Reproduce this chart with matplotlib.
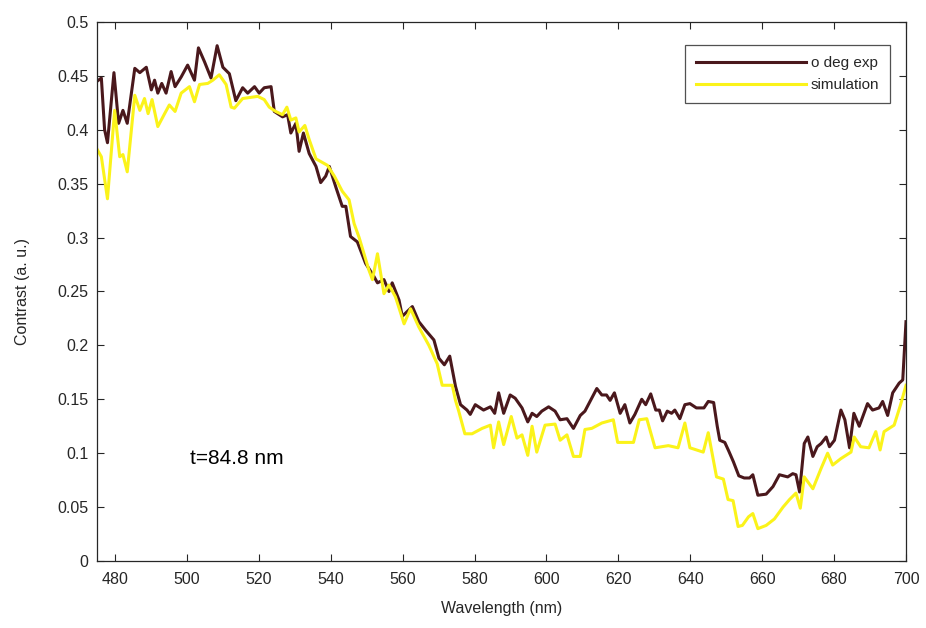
import matplotlib
matplotlib.use("Agg")
import matplotlib.pyplot as plt
from matplotlib.ticker import FixedLocator

plt.rcParams['font.family'] = ['Liberation Sans', 'DejaVu Sans']

exp_wl = [475.0, 476.2, 477.1, 477.9, 479.7, 481.0, 482.2, 483.4, 485.5, 486.9, 488.7, 490.1, 491.0, 491.9,
          493.0, 494.2, 495.6, 496.7, 498.4, 500.2, 502.1, 503.2, 504.9, 506.7, 508.4, 510.0, 511.8, 513.6,
          515.5, 516.9, 518.8, 520.1, 521.5, 523.4, 524.3, 526.6, 528.0, 528.9, 530.3, 531.2, 532.4, 534.0,
          535.9, 537.2, 538.6, 539.6, 541.4, 543.2, 544.2, 545.5, 547.4, 549.7, 552.0, 553.0, 554.8, 556.2,
          557.1, 559.0, 559.9, 562.7, 564.5, 566.4, 568.7, 570.1, 571.6, 573.1, 574.7, 576.1, 577.9, 578.8,
          580.2, 582.5, 584.4, 585.6, 586.7, 588.1, 589.9, 591.3, 593.2, 594.8, 596.0, 597.3, 598.7, 600.6,
          602.4, 603.8, 605.7, 607.5, 609.4, 610.7, 612.1, 614.0, 615.4, 616.7, 617.7, 618.9, 620.5, 621.8,
          623.2, 624.6, 626.5, 627.6, 629.0, 630.4, 631.4, 632.3, 633.6, 634.8, 635.7, 637.1, 638.5, 639.9,
          641.7, 643.8, 645.0, 646.5, 647.5, 648.2, 649.6, 650.7, 652.0, 653.5, 655.0, 656.5, 657.4, 658.8,
          661.1, 663.0, 664.8, 667.1, 668.5, 669.4, 670.4, 671.7, 672.7, 674.1, 675.3, 676.4, 677.8, 678.7,
          680.1, 681.9, 683.0, 684.3, 685.5, 687.0, 689.3, 690.7, 692.5, 693.5, 694.9, 696.3, 698.1, 699.1,
          700.0]
exp_val = [0.445, 0.448, 0.400, 0.388, 0.453, 0.406, 0.418, 0.406, 0.457, 0.453, 0.458, 0.437, 0.446, 0.434,
           0.443, 0.434, 0.454, 0.440, 0.449, 0.460, 0.446, 0.476, 0.463, 0.448, 0.478, 0.458, 0.452, 0.427,
           0.439, 0.434, 0.440, 0.434, 0.439, 0.440, 0.417, 0.412, 0.414, 0.397, 0.406, 0.380, 0.397, 0.378,
           0.366, 0.351, 0.357, 0.366, 0.347, 0.329, 0.329, 0.301, 0.296, 0.276, 0.264, 0.258, 0.261, 0.250,
           0.258, 0.242, 0.227, 0.236, 0.222, 0.214, 0.205, 0.188, 0.182, 0.190, 0.162, 0.145, 0.140, 0.136,
           0.145, 0.140, 0.143, 0.137, 0.156, 0.137, 0.154, 0.151, 0.142, 0.129, 0.137, 0.134, 0.139, 0.143,
           0.139, 0.131, 0.132, 0.123, 0.135, 0.139, 0.148, 0.160, 0.154, 0.154, 0.149, 0.156, 0.137, 0.145,
           0.128, 0.136, 0.150, 0.145, 0.155, 0.140, 0.140, 0.130, 0.139, 0.137, 0.140, 0.132, 0.145, 0.146,
           0.142, 0.142, 0.148, 0.147, 0.125, 0.112, 0.110, 0.102, 0.092, 0.079, 0.077, 0.077, 0.080, 0.061,
           0.062, 0.069, 0.080, 0.078, 0.081, 0.080, 0.064, 0.109, 0.115, 0.097, 0.106, 0.109, 0.115, 0.106,
           0.112, 0.140, 0.131, 0.105, 0.137, 0.125, 0.146, 0.140, 0.142, 0.148, 0.135, 0.156, 0.165, 0.168,
           0.222]

sim_wl = [475.0, 476.2, 477.9, 479.9, 481.3, 482.2, 483.4, 485.5, 486.9, 488.2, 489.2, 490.3, 491.9, 493.8,
          495.1, 496.7, 498.4, 500.7, 502.1, 503.5, 505.8, 507.2, 509.0, 510.9, 512.3, 513.2, 515.5, 519.7,
          521.5, 522.9, 524.7, 526.6, 527.8, 528.9, 530.3, 531.2, 532.8, 534.0, 535.9, 539.1, 541.0, 543.2,
          545.1, 546.5, 547.9, 550.6, 551.6, 553.0, 554.8, 556.2, 558.0, 560.4, 562.2, 564.5, 567.3, 569.6,
          571.0, 573.8, 574.7, 575.6, 577.3, 579.3, 582.1, 584.4, 585.3, 586.7, 588.1, 590.2, 591.8, 593.2,
          594.8, 596.0, 597.3, 599.6, 602.4, 603.8, 605.7, 607.5, 609.4, 610.7, 612.6, 615.4, 618.6, 619.8,
          624.2, 625.8, 627.9, 630.2, 633.9, 636.6, 638.5, 639.9, 643.6, 645.0, 647.3, 649.2, 650.5, 651.9,
          653.3, 654.5, 656.2, 657.4, 658.8, 661.1, 663.4, 665.8, 667.6, 669.4, 670.6, 671.7, 674.1, 676.4,
          678.2, 679.6, 681.9, 684.7, 685.6, 687.4, 689.7, 691.6, 692.8, 693.9, 695.3, 696.7, 698.5, 700.0]
sim_val = [0.382, 0.375, 0.336, 0.418, 0.375, 0.377, 0.361, 0.432, 0.418, 0.429, 0.415, 0.428, 0.403, 0.415,
           0.423, 0.417, 0.434, 0.440, 0.426, 0.442, 0.443, 0.446, 0.451, 0.442, 0.421, 0.420, 0.429, 0.431,
           0.428, 0.421, 0.417, 0.414, 0.421, 0.409, 0.411, 0.398, 0.404, 0.391, 0.373, 0.367, 0.357, 0.343,
           0.335, 0.313, 0.300, 0.270, 0.261, 0.285, 0.248, 0.256, 0.245, 0.220, 0.234, 0.217, 0.200, 0.183,
           0.163, 0.163, 0.149, 0.139, 0.118, 0.118, 0.123, 0.126, 0.105, 0.129, 0.108, 0.134, 0.114, 0.117,
           0.098, 0.125, 0.101, 0.126, 0.127, 0.112, 0.117, 0.097, 0.097, 0.122, 0.123, 0.128, 0.131, 0.110,
           0.110, 0.131, 0.132, 0.105, 0.107, 0.105, 0.128, 0.105, 0.101, 0.119, 0.078, 0.076, 0.057, 0.056,
           0.032, 0.033, 0.041, 0.044, 0.030, 0.033, 0.039, 0.050, 0.057, 0.063, 0.049, 0.078, 0.067, 0.086,
           0.100, 0.089, 0.095, 0.101, 0.115, 0.106, 0.105, 0.120, 0.103, 0.120, 0.123, 0.126, 0.145, 0.163]

x_ticks = [480, 500, 520, 540, 560, 580, 600, 620, 640, 660, 680, 700]
y_ticks = [0, 0.05, 0.1, 0.15, 0.2, 0.25, 0.3, 0.35, 0.4, 0.45, 0.5]
y_tick_labels = ["0", "0.05", "0.1", "0.15", "0.2", "0.25", "0.3", "0.35", "0.4", "0.45", "0.5"]
series_labels = ["o deg exp", "simulation"]

gray = "#262626"
fig = plt.figure(figsize=(9.26, 6.28), dpi=100)
ax = fig.add_axes([0.1048, 0.1067, 0.8736, 0.8583])

ax.plot(exp_wl, exp_val, color="#4a181c", lw=2.2, label=series_labels[0], solid_joinstyle="round")
ax.plot(sim_wl, sim_val, color="#fbf31a", lw=2.2, label=series_labels[1], solid_joinstyle="round")

ax.set_xlim(475, 700)
ax.set_ylim(0, 0.5)
ax.xaxis.set_major_locator(FixedLocator(x_ticks))
ax.set_yticks(y_ticks)
ax.set_yticklabels(y_tick_labels)
ax.tick_params(direction="in", top=True, right=True, length=5, width=0.8,
               labelsize=11.5, colors=gray)
ax.tick_params(axis="x", pad=8)
ax.tick_params(axis="y", pad=6)
for s in ax.spines.values():
    s.set_color(gray)
    s.set_linewidth(0.9)

ax.set_xlabel("Wavelength (nm)", fontsize=11.5, color=gray, labelpad=10)
ax.set_ylabel("Contrast (a. u.)", fontsize=11.5, color=gray, labelpad=20)

ax.text(500.8, 0.0955, "t=84.8 nm", fontsize=15, color="black", ha="left", va="center")

leg = ax.legend(loc="upper right", bbox_to_anchor=(0.980, 0.957), borderaxespad=0,
                fontsize=11, handlelength=7.2, frameon=True, fancybox=False,
                borderpad=0.7, labelspacing=0.55, handletextpad=0.3)
leg.get_frame().set_edgecolor(gray)
leg.get_frame().set_linewidth(0.9)
for t in leg.get_texts():
    t.set_color(gray)

fig.savefig("out.png", dpi=100, facecolor="white")
